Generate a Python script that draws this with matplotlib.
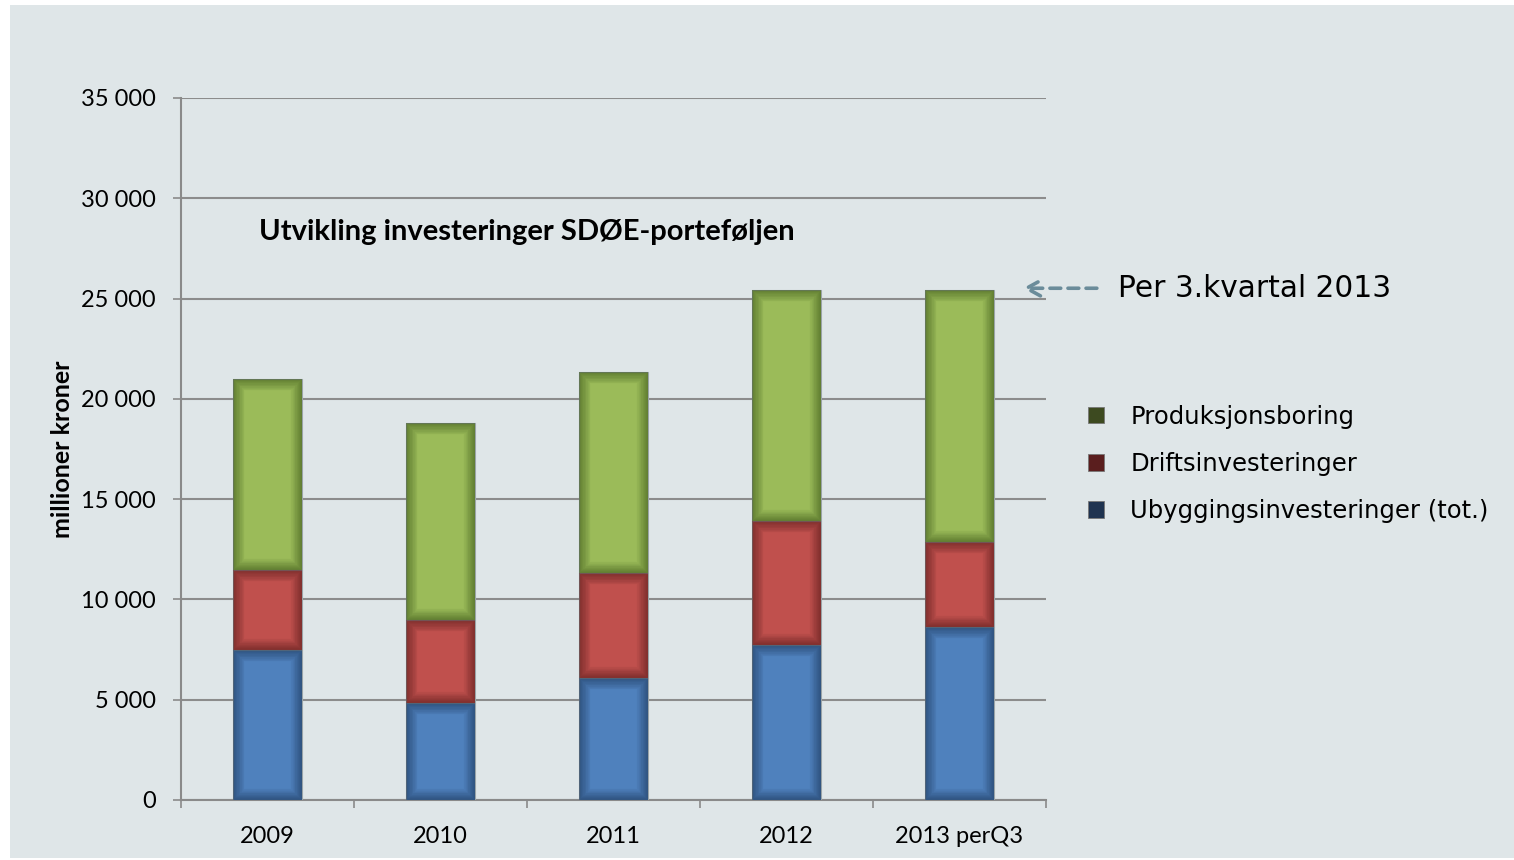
import matplotlib.pyplot as plt
from matplotlib.patches import Patch, Rectangle
import numpy as np

# values (millioner kroner)
years = ["2009", "2010", "2011", "2012", "2013 perQ3"]
utbygging = [7480, 4840, 6080, 7730, 8620]
drift = [3990, 4130, 5240, 6180, 4240]
produksjon = [9520, 9810, 10020, 11510, 12560]

series_names = ["Ubyggingsinvesteringer (tot.)", "Driftsinvesteringer", "Produksjonsboring"]
bar_colors = ["#4f81bd", "#c0504d", "#9bbb59"]
edge_colors = ["#1f3a5c", "#5a1e1c", "#3f5a1c"]
legend_colors = ["#1f3350", "#5a1e1e", "#3d4a20"]

bg = "#dfe6e8"

fig = plt.figure(figsize=(15.14, 8.6), dpi=100)
fig.patch.set_facecolor("white")
fig.patches.append(Rectangle((10 / 1514, 2 / 860), 1504 / 1514, 853 / 860,
                             transform=fig.transFigure, facecolor=bg,
                             edgecolor="none", zorder=-5))

ax = fig.add_axes([181 / 1514, 60 / 860, 865 / 1514, 702 / 860])
ax.set_facecolor("none")

x = np.arange(len(years))
bottom = np.zeros(len(years))
handles = []
for vals, c, ec, lc, name in zip([utbygging, drift, produksjon], bar_colors,
                                 edge_colors, legend_colors, series_names):
    bars = ax.bar(x, vals, width=0.4, bottom=bottom, color=c, edgecolor="#9aa4a8",
                  linewidth=0.8, zorder=3)
    # soft inner shadow along the bar edges (many faint strokes, clipped to the bar)
    for p in bars:
        for lw in [16, 14, 12, 10, 8, 6, 4.5, 3, 1.5]:
            sh = Rectangle(p.get_xy(), p.get_width(), p.get_height(), facecolor="none",
                           edgecolor=ec, linewidth=lw, alpha=0.09, zorder=4)
            ax.add_patch(sh)
            sh.set_clip_path(p)
    bottom += np.array(vals)
    handles.append(Patch(facecolor=lc, edgecolor="#777777", linewidth=0.6, label=name))

ax.set_xlim(-0.5, len(years) - 0.5)
ax.set_ylim(0, 35000)
ax.set_yticks(np.arange(0, 35001, 5000))
ax.set_yticklabels([f"{v:,}".replace(",", " ") for v in range(0, 35001, 5000)],
                   fontsize=17, family="Lato")
ax.set_xticks(x)
ax.set_xticklabels(years, fontsize=17, family="Lato")
ax.set_xticks(np.arange(-0.5, len(years)), minor=True)
ax.tick_params(axis="x", which="major", length=0, pad=19)
ax.tick_params(axis="x", which="minor", length=6, width=1.2, color="#8a8a8a")
ax.tick_params(axis="y", length=6, width=1.2, color="#8a8a8a", pad=12)
ax.grid(axis="y", color="#8c8c8c", linewidth=1.5, zorder=1)
ax.set_axisbelow(True)
for s in ["top", "right"]:
    ax.spines[s].set_visible(False)
for s in ["left", "bottom"]:
    ax.spines[s].set_color("#8a8a8a")
    ax.spines[s].set_linewidth(1.5)

ax.set_ylabel("millioner kroner", fontsize=18, fontweight="bold", family="Lato", labelpad=5)

ax.text(0.09, 0.809, "Utvikling investeringer SDØE-porteføljen", transform=ax.transAxes,
        fontsize=21, fontweight="bold", family="Lato", va="center", ha="left")

ax.annotate("", xy=(0.97, 0.729), xytext=(1.062, 0.729), xycoords="axes fraction",
            textcoords="axes fraction",
            arrowprops=dict(arrowstyle="->,head_length=1.0,head_width=0.55",
                            linestyle=(0, (3, 2)), color="#6b8c9a", linewidth=2.6),
            annotation_clip=False)
ax.text(1.083, 0.729, "Per 3.kvartal 2013", transform=ax.transAxes, fontsize=21.3,
        family="DejaVu Sans", va="center", ha="left")

fig.legend(handles=handles[::-1], loc="upper left", bbox_to_anchor=(1066 / 1514, 1 - 383 / 860),
           frameon=False, handlelength=0.65, handleheight=0.65,
           handletextpad=1.1, labelspacing=0.95, prop={"family": "DejaVu Sans", "size": 17.5})

fig.savefig("out.png", dpi=100, facecolor=fig.get_facecolor())
